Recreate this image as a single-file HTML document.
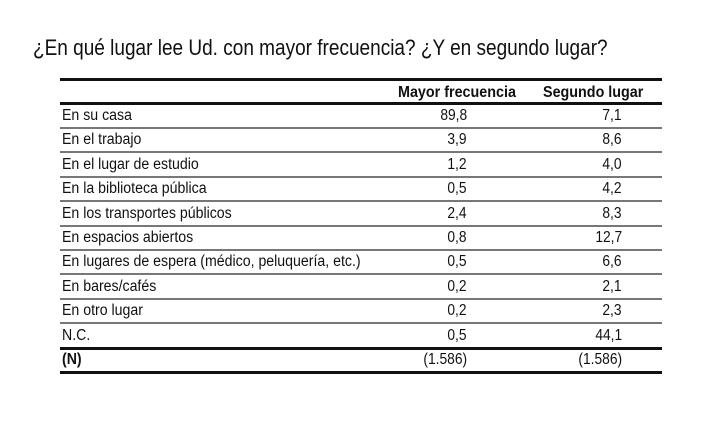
<!DOCTYPE html>
<html><head><meta charset="utf-8"><style>
body{margin:0;width:720px;height:448px;background:#fff;position:relative;overflow:hidden;font-family:"Liberation Sans",sans-serif;color:#111}
.t{position:absolute;white-space:nowrap;transform-origin:0 0}
.r{position:absolute;white-space:nowrap;transform-origin:100% 0;text-align:right}
.l{position:absolute;left:60px;width:602px;background:#777;height:2px}
.k{background:#111;height:3px}
</style></head><body>
<div class="t" style="left:33px;top:35px;font-size:22.5px;transform:scaleX(0.845)">¿En qué lugar lee Ud. con mayor frecuencia? ¿Y en segundo lugar?</div>
<div class="l k" style="top:78px"></div>
<div class="l k" style="top:102px"></div>
<div class="t" style="left:398px;top:84px;font-size:15.5px;font-weight:bold;transform:scaleX(0.925)">Mayor frecuencia</div>
<div class="t" style="left:543px;top:84px;font-size:15.5px;font-weight:bold;transform:scaleX(0.925)">Segundo lugar</div>
<div id="rows"></div>
<script>
var d=[["En su casa","89,8","7,1"],["En el trabajo","3,9","8,6"],["En el lugar de estudio","1,2","4,0"],["En la biblioteca pública","0,5","4,2"],["En los transportes públicos","2,4","8,3"],["En espacios abiertos","0,8","12,7"],["En lugares de espera (médico, peluquería, etc.)","0,5","6,6"],["En bares/cafés","0,2","2,1"],["En otro lugar","0,2","2,3"],["N.C.","0,5","44,1"],["(N)","(1.586)","(1.586)"]];
var h="";
for(var i=0;i<d.length;i++){var y=107+i*24.4;var b=i==10?"font-weight:bold;":"";
h+='<div class="t" style="left:62px;top:'+y+'px;font-size:15.5px;'+b+'transform:scaleX(0.912)">'+d[i][0]+'</div>';
h+='<div class="r" style="right:253px;top:'+y+'px;font-size:15.5px;transform:scaleX(0.89)">'+d[i][1]+'</div>';
h+='<div class="r" style="right:98px;top:'+y+'px;font-size:15.5px;transform:scaleX(0.89)">'+d[i][2]+'</div>';
var ly=127+i*24.4;
if(i<9)h+='<div class="l" style="top:'+ly+'px"></div>';
}
h+='<div class="l k" style="top:347px"></div><div class="l k" style="top:371px"></div>';
document.getElementById("rows").innerHTML=h;
</script>
</body></html>
